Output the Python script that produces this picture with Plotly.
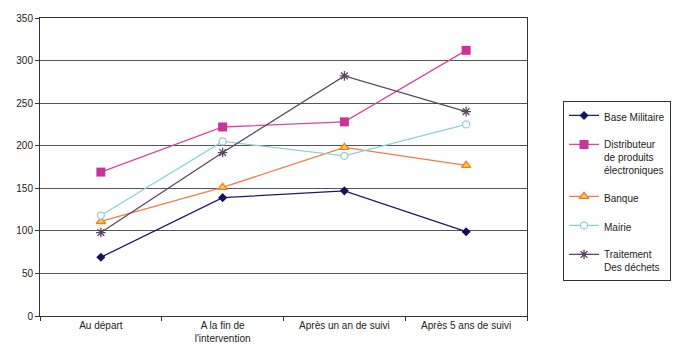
import plotly.graph_objects as go

categories = ["Au départ", "A la fin de<br>l'intervention", "Après un an de suivi", "Après 5 ans de suivi"]
base_militaire = [69, 139, 147, 99]
distributeur = [169, 222, 228, 312]
banque = [111, 151, 198, 177]
mairie = [118, 205, 188, 225]
traitement = [98, 192, 282, 240]

y_ticks = [0, 50, 100, 150, 200, 250, 300, 350]

fig = go.Figure()
fig.add_trace(go.Scatter(x=categories, y=base_militaire, name="Base Militaire", mode="lines+markers",
                         legendgroup="g1",
                         line=dict(color="#1c1c66", width=1.3),
                         marker=dict(symbol="diamond", size=7, color="#14145e")))
fig.add_trace(go.Scatter(x=categories, y=distributeur, name="Distributeur<br>de produits<br>électroniques",
                         legendgroup="g2",
                         mode="lines+markers", line=dict(color="#d9479f", width=1.3),
                         marker=dict(symbol="square", size=9, color="#cc3399")))
fig.add_trace(go.Scatter(x=categories, y=banque, name="Banque", mode="lines+markers",
                         legendgroup="g3",
                         line=dict(color="#f47a4a", width=1.3),
                         marker=dict(symbol="triangle-up", size=8, color="#ffd040",
                                     line=dict(color="#f47a20", width=1.3))))
fig.add_trace(go.Scatter(x=categories, y=mairie, name="Mairie", mode="lines+markers",
                         legendgroup="g4",
                         line=dict(color="#8fd0d6", width=1.3),
                         marker=dict(symbol="circle", size=7, color="white",
                                     line=dict(color="#8fd0d6", width=1.3))))
fig.add_trace(go.Scatter(x=categories, y=traitement, name="Traitement<br>Des déchets", mode="lines+markers",
                         legendgroup="g5",
                         line=dict(color="#5a4660", width=1.3),
                         marker=dict(symbol="asterisk-open", size=8,
                                     line=dict(color="#5a4660", width=1.3))))

fig.update_layout(
    width=697, height=356,
    margin=dict(l=40, r=170, t=18, b=33),
    paper_bgcolor="white", plot_bgcolor="white",
    font=dict(family="Liberation Sans, Arial, sans-serif", size=10, color="#222"),
    legend=dict(x=1.074, y=0.72, xanchor="left", yanchor="top",
                bordercolor="#333", borderwidth=1, bgcolor="white",
                valign="top", tracegroupgap=10, itemwidth=30, traceorder="grouped",
                font=dict(size=10, color="#222")),
    showlegend=True,
)
fig.update_xaxes(type="category", showline=True, linecolor="#333", linewidth=1, mirror=True,
                 ticks="outside", tickson="boundaries", ticklen=4, tickcolor="#333",
                 showgrid=False, range=[-0.5, 3.5], tickfont=dict(size=10))
fig.update_yaxes(range=[0, 350], tickvals=y_ticks, showline=True, linecolor="#333", linewidth=1,
                 mirror=True, ticks="outside", ticklen=4, tickcolor="#333",
                 showgrid=True, gridcolor="#555", gridwidth=1, zeroline=False,
                 tickfont=dict(size=10))

fig.write_html("out.html")
